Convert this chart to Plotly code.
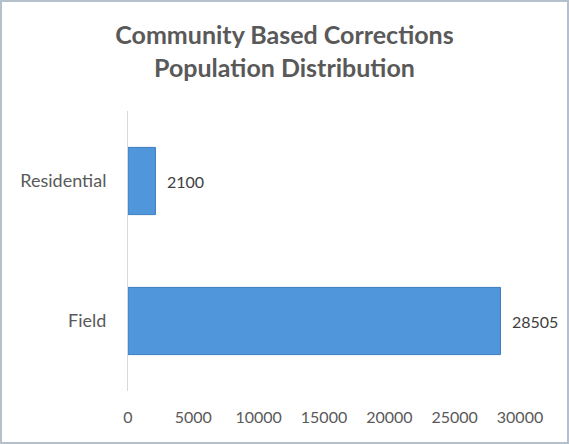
import plotly.graph_objects as go

# ---- data ----
categories = ["Field", "Residential"]
values = [28505, 2100]
x_ticks = [0, 5000, 10000, 15000, 20000, 25000, 30000]
title_lines = ["Community Based Corrections", "Population Distribution"]

W, H = 569, 444
ML, MR, MT, MB = 128, 49, 111, 53
PW = W - ML - MR
PH = H - MT - MB

fig = go.Figure()
fig.add_trace(go.Bar(
    y=categories, x=values, orientation="h", width=0.48,
    marker=dict(color="#5096da", line=dict(color="#3d7cc1", width=1)),
    hoverinfo="x+y",
))

for c, v in zip(categories, values):
    fig.add_annotation(x=v, y=c, text=str(v), showarrow=False,
                       xanchor="left", xshift=10,
                       font=dict(family="Lato", size=16, color="#404040"))

# outer frame of the chart image
fig.add_shape(type="rect", xref="paper", yref="paper",
              x0=(1 - ML) / PW, x1=(W - 1 - ML) / PW,
              y0=-(MB - 1) / PH, y1=1 + (MT - 1) / PH,
              line=dict(color="#b4c0cc", width=2), fillcolor="rgba(0,0,0,0)",
              layer="below")

fig.update_layout(
    width=W, height=H,
    margin=dict(l=ML, r=MR, t=MT, b=MB, pad=0),
    paper_bgcolor="white", plot_bgcolor="white",
    showlegend=False, bargap=0.5,
    title=dict(text="<br>".join(title_lines), x=0.5, xanchor="center",
               y=1 - 44 / H, yanchor="middle",
               font=dict(family="Lato", size=25, color="#595959", weight="bold")),
    font=dict(family="Lato", size=16, color="#595959"),
)
fig.update_xaxes(range=[0, 30000], tickvals=x_ticks, ticktext=[str(t) for t in x_ticks],
                 showgrid=False, zeroline=False, showline=False, ticks="",
                 ticklabelstandoff=15, tickfont=dict(size=16, color="#595959"))
fig.update_yaxes(range=[-0.5, 1.5], showgrid=False, zeroline=False,
                 showline=True, linecolor="#d9d9d9", linewidth=1, ticks="",
                 ticklabelstandoff=17, tickfont=dict(size=18, color="#595959"))

fig.write_html("out.html", config={"displayModeBar": False},
               post_script="document.body.style.margin='0';")
